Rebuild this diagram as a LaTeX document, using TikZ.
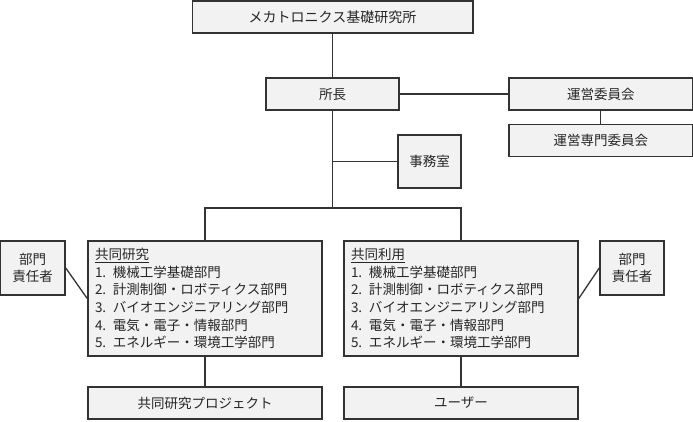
\documentclass[tikz,border=0pt]{standalone}
\usepackage{fontspec}
\setmainfont{Noto Sans CJK JP}
\begin{document}
\begin{tikzpicture}[x=1bp,y=-1bp,
  box/.style={draw=black!80, fill=black!5, line width=1.5bp, inner sep=0pt, font=\fontsize{13.5bp}{17.7bp}\selectfont, text=black!85},
  bigbox/.style={box},
  conn/.style={draw=black!80, line width=1.3bp}]
\useasboundingbox (0,0) rectangle (693,421);
\node[box, minimum width=280.5bp, minimum height=32bp, font=\fontsize{14bp}{17bp}\selectfont] (top) at (332.5,17) {メカトロニクス基礎研究所};
\node[box, minimum width=133bp, minimum height=32bp] (shocho) at (332.5,94) {所長};
\node[box, minimum width=183.5bp, minimum height=32bp] (unei) at (600.75,94) {運営委員会};
\node[box, minimum width=183.5bp, minimum height=32bp] (senmon) at (600.75,140.3) {運営専門委員会};
\node[box, minimum width=63bp, minimum height=53bp] (jimu) at (429.5,161.5) {事務室};
\node[bigbox, minimum width=234bp, minimum height=115bp, text width=220bp, align=left] (kyoken) at (205,298.5)
 {\underline{共同研究}\\1. 機械工学基礎部門\\2. 計測制御・ロボティクス部門\\3. バイオエンジニアリング部門\\4. 電気・電子・情報部門\\5. エネルギー・環境工学部門};
\node[bigbox, minimum width=234bp, minimum height=115bp, text width=220bp, align=left] (kyoriyo) at (461,298.5)
 {\underline{共同利用}\\1. 機械工学基礎部門\\2. 計測制御・ロボティクス部門\\3. バイオエンジニアリング部門\\4. 電気・電子・情報部門\\5. エネルギー・環境工学部門};
\node[bigbox, minimum width=65bp, minimum height=54bp, align=center] (bukaL) at (32.5,268) {部門\\責任者};
\node[bigbox, minimum width=64bp, minimum height=54bp, align=center] (bukaR) at (632,268) {部門\\責任者};
\node[bigbox, minimum width=234bp, minimum height=32bp] (proj) at (205,403) {共同研究プロジェクト};
\node[bigbox, minimum width=234bp, minimum height=32bp] (user) at (461,403) {ユーザー};
\coordinate (bus) at (332.5,208);
\draw[conn] (top.south) -- (shocho.north);
\draw[conn] (shocho.east) -- (unei.west);
\draw[conn] (unei.south) -- (senmon.north);
\draw[conn] (shocho.south) -- (bus);
\draw[conn] (jimu.west) -- (jimu.west -| shocho.south);
\draw[conn] (kyoken.north) |- (bus) -| (kyoriyo.north);
\draw[conn] (bukaL.east) -- (kyoken.west);
\draw[conn] (bukaR.west) -- (kyoriyo.east);
\draw[conn] (kyoken.south) -- (proj.north);
\draw[conn] (kyoriyo.south) -- (user.north);
\end{tikzpicture}
\end{document}
